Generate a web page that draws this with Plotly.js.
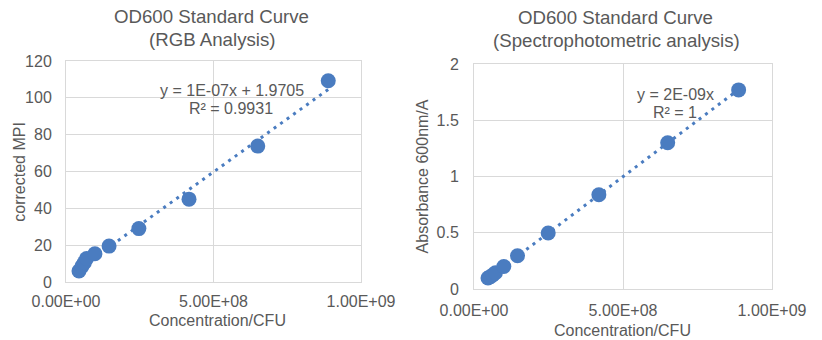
<!DOCTYPE html>
<html><head><meta charset="utf-8">
<script src="https://cdn.plot.ly/plotly-3.0.1.min.js"></script>
<style>html,body{margin:0;padding:0;background:#fff}#chart{width:822px;height:340px}</style>
</head><body><div id="chart"></div>
<script>
// Data
const concRGB = [4.4e7, 5.4e7, 6.2e7, 7.0e7, 9.8e7, 1.46e8, 2.47e8, 4.17e8, 6.5e8, 8.89e8];
const mpi = [6.0, 8.5, 10.5, 12.8, 15.3, 19.5, 29.0, 45.0, 73.8, 109.3];
const concSpec = [4.7e7, 5.5e7, 6.3e7, 7.2e7, 1.0e8, 1.46e8, 2.49e8, 4.19e8, 6.5e8, 8.88e8];
const absorbance = [0.098, 0.11, 0.125, 0.145, 0.2, 0.296, 0.498, 0.838, 1.30, 1.77];
const xTickVals = [0, 5e8, 1e9];
const xTickText = ['0.00E+00', '5.00E+08', '1.00E+09'];
const yTickRGB = [0, 20, 40, 60, 80, 100, 120];
const yTickSpec = [0, 0.5, 1, 1.5, 2];
const yTickSpecText = ['0', '0.5', '1', '1.5', '2'];
const titleRGB = ['OD600 Standard Curve', '(RGB Analysis)'];
const titleSpec = ['OD600 Standard Curve', '(Spectrophotometric analysis)'];
const eqRGB = ['y = 1E-07x + 1.9705', 'R² = 0.9931'];
const eqSpec = ['y = 2E-09x', 'R² = 1'];

// least squares fits (Excel trendlines)
function linFit(x, y) {
  const n = x.length;
  const mx = x.reduce((a, b) => a + b, 0) / n, my = y.reduce((a, b) => a + b, 0) / n;
  let sxy = 0, sxx = 0;
  for (let i = 0; i < n; i++) { sxy += (x[i] - mx) * (y[i] - my); sxx += (x[i] - mx) ** 2; }
  const m = sxy / sxx; return { m: m, b: my - m * mx };
}
function originFit(x, y) {
  let sxy = 0, sxx = 0;
  for (let i = 0; i < x.length; i++) { sxy += x[i] * y[i]; sxx += x[i] * x[i]; }
  return { m: sxy / sxx, b: 0 };
}
const fitL = linFit(concRGB, mpi);
const fitR = originFit(concSpec, absorbance);
const tlxL = [Math.min(...concRGB), Math.max(...concRGB)];
const tlxR = [Math.min(...concSpec), Math.max(...concSpec)];

const BLUE = '#4a7cc0', GRID = '#d9d9d9', TXT = '#595959';
const FONT = 'Arial, "Liberation Sans", sans-serif';
const dotLine = { color: BLUE, width: 3, dash: '3px,5px' };

const traces = [
  { x: tlxL, y: tlxL.map(v => fitL.m * v + fitL.b), mode: 'lines', line: dotLine, xaxis: 'x', yaxis: 'y', hoverinfo: 'skip' },
  { x: concRGB, y: mpi, mode: 'markers', marker: { color: BLUE, size: 15 }, xaxis: 'x', yaxis: 'y' },
  { x: tlxR, y: tlxR.map(v => fitR.m * v), mode: 'lines', line: dotLine, xaxis: 'x2', yaxis: 'y2', hoverinfo: 'skip' },
  { x: concSpec, y: absorbance, mode: 'markers', marker: { color: BLUE, size: 15 }, xaxis: 'x2', yaxis: 'y2' }
];

const W = 822, H = 340;
const px = v => v / W, py = v => 1 - v / H;
const axCommon = {
  showgrid: true, gridcolor: GRID, gridwidth: 1, showline: true, mirror: true, linecolor: GRID, linewidth: 1,
  zeroline: false, ticks: '', tickfont: { family: FONT, size: 16, color: TXT }, automargin: false, fixedrange: true
};
const layout = {
  width: W, height: H, margin: { l: 0, r: 0, t: 0, b: 0 }, showlegend: false,
  paper_bgcolor: '#fff', plot_bgcolor: '#fff', font: { family: FONT, color: TXT },
  xaxis: Object.assign({}, axCommon, { domain: [px(66), px(361)], range: [0, 1e9], tickvals: xTickVals, ticktext: xTickText, anchor: 'y', ticklabelstandoff: 5 }),
  yaxis: Object.assign({}, axCommon, { domain: [py(282), py(61)], range: [0, 120], tickvals: yTickRGB, anchor: 'x', ticklabelstandoff: 10 }),
  xaxis2: Object.assign({}, axCommon, { domain: [px(474), px(772)], range: [0, 1e9], tickvals: xTickVals, ticktext: xTickText, anchor: 'y2', ticklabelstandoff: 7 }),
  yaxis2: Object.assign({}, axCommon, { domain: [py(289), py(64)], range: [0, 2], tickvals: yTickSpec, ticktext: yTickSpecText, anchor: 'x2', ticklabelstandoff: 11 }),
  annotations: []
};
function ann(text, x, y, size, extra) {
  layout.annotations.push(Object.assign({ text: text, x: px(x), y: py(y), xref: 'paper', yref: 'paper', showarrow: false,
    xanchor: 'center', yanchor: 'middle', font: { family: FONT, size: size, color: TXT } }, extra || {}));
}
ann(titleRGB[0], 211.7, 16.7, 18.67);
ann(titleRGB[1], 211.7, 39, 18.67);
ann(titleSpec[0], 615, 17, 18.67);
ann(titleSpec[1], 616, 40, 18.67);
ann(eqRGB[0], 231.7, 90.7, 16);
ann(eqRGB[1], 230.8, 109, 16);
ann(eqSpec[0], 675.8, 94.3, 16);
ann(eqSpec[1], 675, 113, 16);
ann('Concentration/CFU', 217.3, 320, 16);
ann('Concentration/CFU', 622.7, 330, 16);
ann('corrected MPI', 20, 171.7, 16, { textangle: -90 });
ann('Absorbance 600nm/A', 422.7, 176.7, 16, { textangle: -90 });

Plotly.newPlot('chart', traces, layout, { staticPlot: true, displayModeBar: false });
</script>
</body></html>
